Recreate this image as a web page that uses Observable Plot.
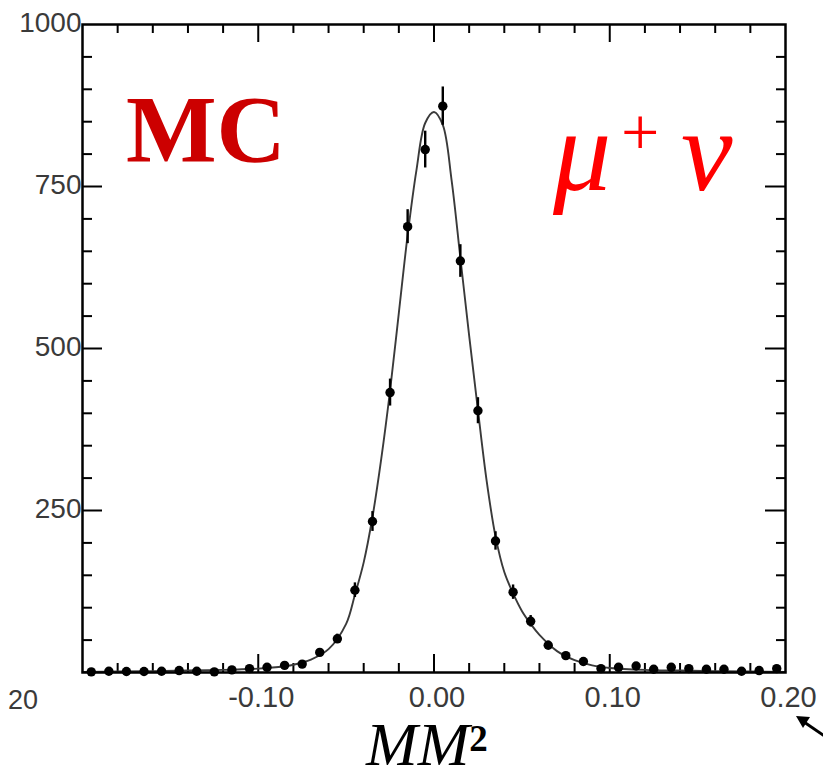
<!DOCTYPE html>
<html><head><meta charset="utf-8">
<script src="https://cdn.jsdelivr.net/npm/d3@7"></script>
<script src="https://cdn.jsdelivr.net/npm/@observablehq/plot@0.6"></script>
<style>
body{margin:0;background:#fff;}
#chart{position:relative;width:823px;height:773px;overflow:hidden;}
</style>
</head><body><div id="chart"></div>
<script>
// Bin centres of the MM^2 histogram
const binCenters = [-0.195,-0.185,-0.175,-0.165,-0.155,-0.145,-0.135,-0.125,-0.115,-0.105,
  -0.095,-0.085,-0.075,-0.065,-0.055,-0.045,-0.035,-0.025,-0.015,-0.005,
  0.005,0.015,0.025,0.035,0.045,0.055,0.065,0.075,0.085,0.095,
  0.105,0.115,0.125,0.135,0.145,0.155,0.165,0.175,0.185,0.195];
// MC entries per bin
const counts = [1,2,1.5,1.5,2,3,2,1,4,6,
  8,11,13,31,52,127,233,432,688,807,
  874,635,404,203,124,79,42,26,17,6,
  8,10,5,8,6,5,5,2,3,6];
// Error bar half-lengths
const errors = [1,1.4,1.2,1.2,1.4,1.7,1.4,1,2,2.4,
  2.8,3.3,3.6,5.6,7.2,11.3,15.3,20.8,26.2,28.4,
  29.6,25.2,20.1,14.2,11.1,8.9,6.5,5.1,4.1,2.4,
  2.8,3.2,2.2,2.8,2.4,2.2,2.2,1.4,1.7,2.4];
// Fitted curve
const fitX = [-0.20,-0.18,-0.16,-0.14,-0.12,-0.10,-0.09,-0.08,-0.07,-0.06,-0.05,-0.045,-0.04,-0.035,-0.03,-0.025,-0.02,-0.015,-0.01,-0.005,
  0.0,0.005,0.01,0.015,0.02,0.025,0.03,0.035,0.04,0.045,0.05,0.055,0.06,0.07,0.08,0.09,0.10,0.12,0.14,0.16,0.18,0.20];
const fitY = [1,1.5,2,3,4,6,8,12,20,36,75,120,170,240,330,435,555,675,775,848,
  865,845,760,640,520,405,295,210,155,122,95,75,58,33,19,11,7,4,3,2,1.5,1];
// Axis ticks
const xTickLabels = [-0.10,0.00,0.10,0.20];
const xMajor = [-0.10,0.00,0.10];
const xMinor = [-0.18,-0.16,-0.14,-0.12,-0.08,-0.06,-0.04,-0.02,0.02,0.04,0.06,0.08,0.12,0.14,0.16,0.18];
const yTickLabels = [250,500,750,1000];
const yMajor = [250,500,750];
const yMinor = [50,100,150,200,300,350,400,450,550,600,650,700,800,850,900,950];

const data = binCenters.map((x,i)=>({x, y:counts[i], e:errors[i]}));
const fit = fitX.map((x,i)=>({x, y:fitY[i]}));

const W = 823, H = 773, ML = 82, MR = 38, MT = 24, MB = 101;
const FW = W - ML - MR, FH = H - MT - MB;
const tk = {stroke: "#000", strokeWidth: 2};

const plot = Plot.plot({
  width: W, height: H,
  marginLeft: ML, marginRight: MR, marginTop: MT, marginBottom: MB,
  x: {domain: [-0.2, 0.2]},
  y: {domain: [0, 1000]},
  style: {background: "white", fontFamily: "'Liberation Sans', Arial, sans-serif"},
  marks: [
    // inward tick marks on all four sides
    Plot.ruleX(xMajor, {x: d => d, insetTop: FH - 18, ...tk}),
    Plot.ruleX(xMinor, {x: d => d, insetTop: FH - 9, ...tk}),
    Plot.ruleX(xMajor, {x: d => d, insetBottom: FH - 18, ...tk}),
    Plot.ruleX(xMinor, {x: d => d, insetBottom: FH - 9, ...tk}),
    Plot.ruleY(yMajor, {y: d => d, insetRight: FW - 20, ...tk}),
    Plot.ruleY(yMinor, {y: d => d, insetRight: FW - 10, ...tk}),
    Plot.ruleY(yMajor, {y: d => d, insetLeft: FW - 20, ...tk}),
    Plot.ruleY(yMinor, {y: d => d, insetLeft: FW - 9, ...tk}),
    Plot.line(fit, {x: "x", y: "y", curve: "catmull-rom", stroke: "#3a3a3a", strokeWidth: 1.9}),
    Plot.ruleX(data, {x: "x", y1: d => d.y - d.e, y2: d => d.y + d.e, stroke: "#000", strokeWidth: 2.4}),
    Plot.dot(data, {x: "x", y: "y", r: 4.7, fill: "#000", stroke: "none"}),
    Plot.axisX({anchor: "bottom", ticks: xTickLabels, tickSize: 0, tickPadding: 14, dx: 3,
      tickFormat: d => d.toFixed(2), fontSize: 29, fill: "#3a3a3a", label: null}),
    Plot.axisY({anchor: "left", ticks: yTickLabels, tickSize: 0, tickPadding: 1, dy: -1,
      tickFormat: d => String(d), fontSize: 28, fill: "#3a3a3a", label: null}),
    Plot.frame({stroke: "#000", strokeWidth: 2.5})
  ]
});
document.getElementById("chart").appendChild(plot);

const svg = d3.select(plot);
const serif = "'Liberation Serif', 'Times New Roman', Times, serif";
svg.append("text").attr("x", 126).attr("y", 162).attr("text-anchor", "start")
  .attr("font-family", serif).attr("font-weight", "bold").attr("font-size", 96)
  .attr("fill", "#cc0000").text("MC");

const mu = svg.append("text").attr("x", 553).attr("y", 190).attr("text-anchor", "start")
  .attr("font-family", serif).attr("fill", "#ff0000");
mu.append("tspan").attr("font-style", "italic").attr("font-size", 116).text("μ");
mu.append("tspan").attr("x", 621).attr("dy", -35).attr("font-size", 68).text("+");
mu.append("tspan").attr("x", 681).attr("dy", 35).attr("font-style", "italic").attr("font-size", 116).text("ν");

const mm = svg.append("text").attr("x", 366).attr("y", 765).attr("text-anchor", "start")
  .attr("font-family", serif).attr("fill", "#000");
mm.append("tspan").attr("font-style", "italic").attr("font-size", 62).text("MM");
mm.append("tspan").attr("dy", -14).attr("font-weight", "bold").attr("font-size", 37).text("2");

// partial label from the neighbouring panel
svg.append("text").attr("x", 38).attr("y", 709).attr("text-anchor", "end")
  .attr("font-family", "'Liberation Sans', Arial, sans-serif").attr("font-size", 27)
  .attr("fill", "#3a3a3a").text("20");

// arrow at lower right
svg.append("line").attr("x1", 826).attr("y1", 737).attr("x2", 804).attr("y2", 722)
  .attr("stroke", "#000").attr("stroke-width", 3);
svg.append("polygon").attr("points", "796,716 810,717 803,728").attr("fill", "#000");
</script>
</body></html>
